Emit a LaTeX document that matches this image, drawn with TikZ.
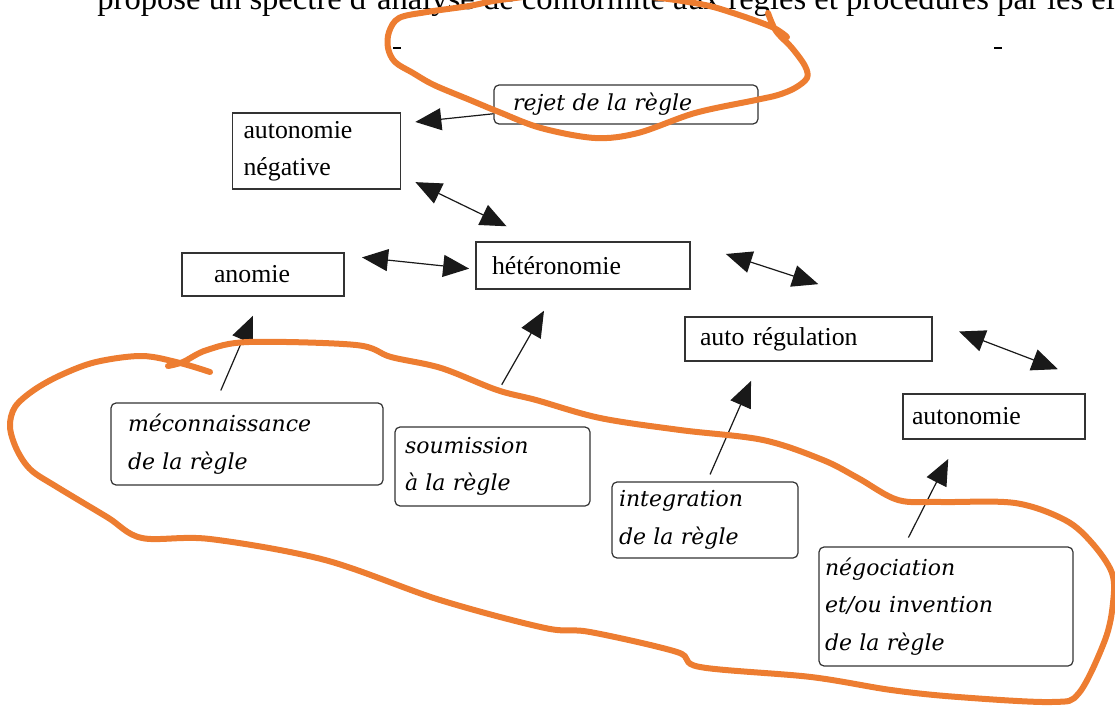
\documentclass[tikz,border=0pt]{standalone}
\usepackage{fontspec}
\setmainfont{Liberation Serif}
\newfontfamily\rulefont{DejaVu Serif}
\usepackage{xcolor}
\definecolor{penorange}{HTML}{ED7D31}
\usepackage{tikz}
\usetikzlibrary{arrows.meta}
\tikzset{
  nb/.style={align=left, inner ysep=0pt, anchor=center},
  nrect/.style={nb, draw=black!80, line width=0.9pt,
                font=\fontsize{12.9}{18.5}\selectfont},
  nround/.style={nb, draw=black!80, line width=0.6pt, rounded corners=2.5pt,
                 font=\rulefont\itshape\fontsize{11}{18.7}\selectfont},
  ar/.style={-{Triangle[length=13pt,width=11pt]}, draw=black!90, line width=0.6pt},
  dar/.style={ar, {Triangle[length=13pt,width=11pt]}-{Triangle[length=13pt,width=11pt]}},
  hand/.style={draw=penorange, line width=3pt, line cap=round, line join=round},
}

\begin{document}
\begin{tikzpicture}[x=0.5pt,y=-0.5pt]
  \useasboundingbox (0,0) rectangle (1115,706);
  % line of text cut by the top of the page
  \node[anchor=base west, inner sep=0pt, font=\fontsize{16.3}{19}\selectfont] (intro) at (97,9.5)
    {propose un spectre d'analyse de conformité aux règles et procédures par les élèves};
  \draw[line width=0.6pt] (393,48) -- (401,48);
  \draw[line width=0.6pt] (994,48) -- (1002,48);

  % states
  \node[nrect, inner xsep=5.5pt, text width=73pt, minimum height=38pt] (autneg) at (316.5,151) {autonomie\\négative};
  \node[nrect, inner xsep=16pt, text width=49pt, minimum height=21.5pt] (anomie) at (263,274.5) {anomie};
  \node[nrect, inner xsep=8pt, text width=91pt, minimum height=23.5pt] (het) at (583,265.5) {hétéronomie};
  \node[nrect, inner xsep=7.5pt, text width=108.5pt, minimum height=22pt] (autoreg) at (808.5,339) {auto régulation};
  \node[nrect, inner xsep=4.5pt, text width=82pt, minimum height=22.5pt] (auton) at (994,416.5) {autonomie};

  % attitudes towards the rule
  \node[nround, inner xsep=9.5pt, text width=113pt, minimum height=19.5pt] (rejet) at (626,104.5) {rejet de la règle};
  \node[nround, inner xsep=8.5pt, text width=119pt, minimum height=41pt] (mecon) at (247,444) {méconnaissance\\de la règle};
  \node[nround, inner xsep=5pt, text width=87.5pt, minimum height=39.5pt] (soum) at (492.5,466.5) {soumission\\à la règle};
  \node[nround, inner xsep=3.5pt, text width=86pt, minimum height=38pt] (integ) at (705,520) {integration\\de la règle};
  \node[nround, inner xsep=3pt, text width=121pt, minimum height=59.5pt] (nego) at (946,606.5) {négociation\\et/ou invention\\de la règle};

  % connectors
  \draw[ar] (rejet.184) -- (autneg.18) [shorten >=7pt];
  \draw[dar, shorten <=7.8pt, shorten >=17pt] (autneg.344) -- (het.152);
  \draw[dar, shorten <=8.6pt, shorten >=3pt] (anomie.13) -- (het.182);
  \draw[dar, shorten <=18.4pt, shorten >=51.5pt] (het.12) -- (autoreg.12);
  \draw[dar, shorten <=14pt, shorten >=15pt] (autoreg.8) -- ([yshift=6.6pt]auton.north east);
  \draw[ar, shorten <=6.5pt, shorten >=10.3pt] (mecon.127) -- (anomie.265);
  \draw[ar, shorten <=24pt, shorten >=12pt] (soum.110) -- (het.222);
  \draw[ar, shorten <=3.8pt, shorten >=10.4pt] (integ.87) -- (autoreg.205);
  \draw[ar, shorten <=5pt, shorten >=10.7pt] (nego.125) -- (auton.213);

  % hand-drawn loops
  \draw[hand] plot[smooth, tension=0.55] coordinates {
    (768,13) (776,31) (792,48) (805,66) (807,78) (795,88) (778,95) (756,100)
    (695,113) (638,133) (595,138) (541,128) (499,112) (470,100) (434,85)
    (413,73) (395,62) (388,48) (389,32) (399,18) (427,12) (469,6) (500,0)
    (560,-6) (640,-4) (700,4) (733,13) (772,27) (787,37)};
  \draw[hand] plot[smooth, tension=0.55] coordinates {
    (210,372) (180,363) (142,356) (96,362) (61,375) (34,390) (15,407)
    (10,427) (17,450) (31,470) (57,487) (107,517) (142,538) (210,539)
    (325,560) (440,600) (545,628) (590,632) (677,652) (700,667) (811,677)
    (891,690) (958,697) (1052,702) (1079,693) (1105,640) (1113,603)
    (1112,573) (1092,543) (1065,520) (1015,503) (941,502) (898,500)
    (858,478) (823,460) (763,440) (680,430) (600,418) (536,400) (497,390)
    (441,368) (391,357) (356,345) (249,342) (207,350) (183,362) (168,366)};
\end{tikzpicture}
\end{document}
